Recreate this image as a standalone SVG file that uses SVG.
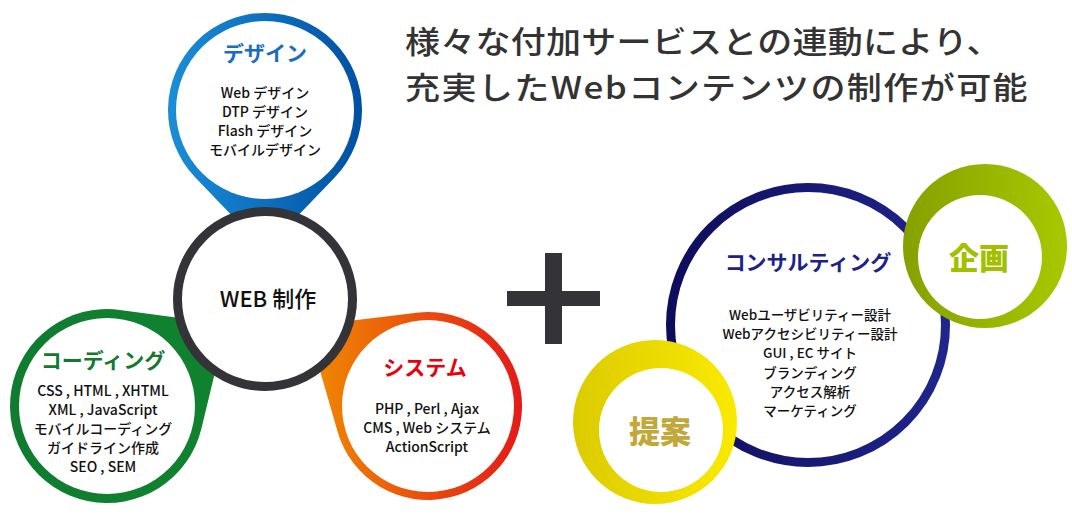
<svg xmlns="http://www.w3.org/2000/svg" width="1072" height="520" viewBox="0 0 1072 520">
<defs>
<linearGradient id="gBlue" x1="0" y1="0" x2="1" y2="0"><stop offset="0" stop-color="#1a8ed8"/><stop offset="1" stop-color="#0050a2"/></linearGradient>
<linearGradient id="gGreen" x1="0" y1="0" x2="1" y2="0"><stop offset="0" stop-color="#0f7c30"/><stop offset="1" stop-color="#10832f"/></linearGradient>
<linearGradient id="gOrange" x1="0" y1="0" x2="1" y2="0"><stop offset="0" stop-color="#f08c00"/><stop offset="1" stop-color="#e41a18"/></linearGradient>
<linearGradient id="gNavy" x1="0" y1="0" x2="1" y2="0"><stop offset="0" stop-color="#0e0d5c"/><stop offset="1" stop-color="#20258c"/></linearGradient>
<linearGradient id="gOlive" x1="0" y1="0" x2="1" y2="0"><stop offset="0" stop-color="#86a000"/><stop offset="1" stop-color="#a8c800"/></linearGradient>
<linearGradient id="gYellow" x1="0" y1="0" x2="1" y2="0"><stop offset="0" stop-color="#dccb00"/><stop offset="1" stop-color="#faea00"/></linearGradient>
</defs>
<style>
text{font-family:"Noto Sans CJK JP","Noto Sans",sans-serif;text-anchor:middle}
.t{font-weight:bold;font-size:21px}
.b{font-size:14px;fill:#111;font-weight:500}
.c{font-size:13.5px;fill:#111;font-weight:500}
.h{font-size:31px;fill:#333;text-anchor:start;font-weight:500}
.inner{fill:#fff}
</style>
<g id="heading">
<text class="h" transform="translate(405,53) scale(1.13,1)" x="0" y="0" textLength="528" lengthAdjust="spacing">様々な付加サービスとの連動により、</text>
<text class="h" transform="translate(405,99) scale(1.13,1)" x="0" y="0" textLength="551" lengthAdjust="spacing">充実したWebコンテンツの制作が可能</text>
</g>
<g id="connectors">
<path d="M334.9,177.2 A97,97 0 1 0 195.1,177.2 L265,250 Z" fill="url(#gBlue)"/>
<path d="M119.9,309.9 A97,97 0 1 0 201.3,428.9 L226.7,324.2 Z" fill="url(#gGreen)"/>
<path d="M416.8,312.7 A94,94 0 1 1 337.7,432 L307.1,325.9 Z" fill="url(#gOrange)"/>
</g>
<g id="design">
<circle class="inner" cx="265" cy="110" r="89"/>
<text class="t" x="265" y="61" fill="#1a6cc0">デザイン</text>
<text class="b" x="265" y="98">Web デザイン</text>
<text class="b" x="265" y="117">DTP デザイン</text>
<text class="b" x="265" y="136">Flash デザイン</text>
<text class="b" x="265" y="155">モバイルデザイン</text>
</g>
<g id="coding">
<circle class="inner" cx="107" cy="406" r="88"/>
<text class="t" x="103" y="368" fill="#14782e">コーディング</text>
<text class="b" x="103" y="396">CSS , HTML , XHTML</text>
<text class="b" x="103" y="415">XML , JavaScript</text>
<text class="b" x="103" y="434">モバイルコーディング</text>
<text class="b" x="103" y="453">ガイドライン作成</text>
<text class="b" x="103" y="472">SEO , SEM</text>
</g>
<g id="system">
<circle class="inner" cx="428" cy="406" r="86"/>
<text class="t" x="425" y="375" fill="#e8000f">システム</text>
<text class="b" x="427" y="414">PHP , Perl , Ajax</text>
<text class="b" x="427" y="433">CMS , Web システム</text>
<text class="b" x="427" y="452">ActionScript</text>
</g>
<g id="web">
<circle cx="265" cy="299" r="87.5" fill="#fff" stroke="#333338" stroke-width="9"/>
<text x="268" y="307" font-size="22" font-weight="500" fill="#111">WEB 制作</text>
</g>
<g id="plus">
<rect x="545" y="253" width="17" height="91" fill="#333338"/>
<rect x="507" y="291" width="93" height="15" fill="#333338"/>
</g>
<g id="consulting">
<circle cx="808" cy="325" r="137.5" fill="#fff" stroke="url(#gNavy)" stroke-width="9"/>
<text class="t" x="808" y="270" fill="#1e2288">コンサルティング</text>
<text class="c" x="810" y="320">Webユーザビリティー設計</text>
<text class="c" x="810" y="339">Webアクセシビリティー設計</text>
<text class="c" x="810" y="358">GUI , EC サイト</text>
<text class="c" x="810" y="378">ブランディング</text>
<text class="c" x="810" y="397">アクセス解析</text>
<text class="c" x="810" y="416">マーケティング</text>
</g>
<g id="kikaku">
<circle cx="985" cy="246" r="82" fill="url(#gOlive)"/>
<circle class="inner" cx="980" cy="257" r="62"/>
<text x="979" y="269" font-size="30" font-weight="900" fill="#a2c000">企画</text>
</g>
<g id="teian">
<circle cx="655" cy="422" r="82" fill="url(#gYellow)"/>
<circle class="inner" cx="661" cy="430" r="62"/>
<text x="660" y="443" font-size="31" font-weight="900" fill="#c2a83a">提案</text>
</g>
</svg>
